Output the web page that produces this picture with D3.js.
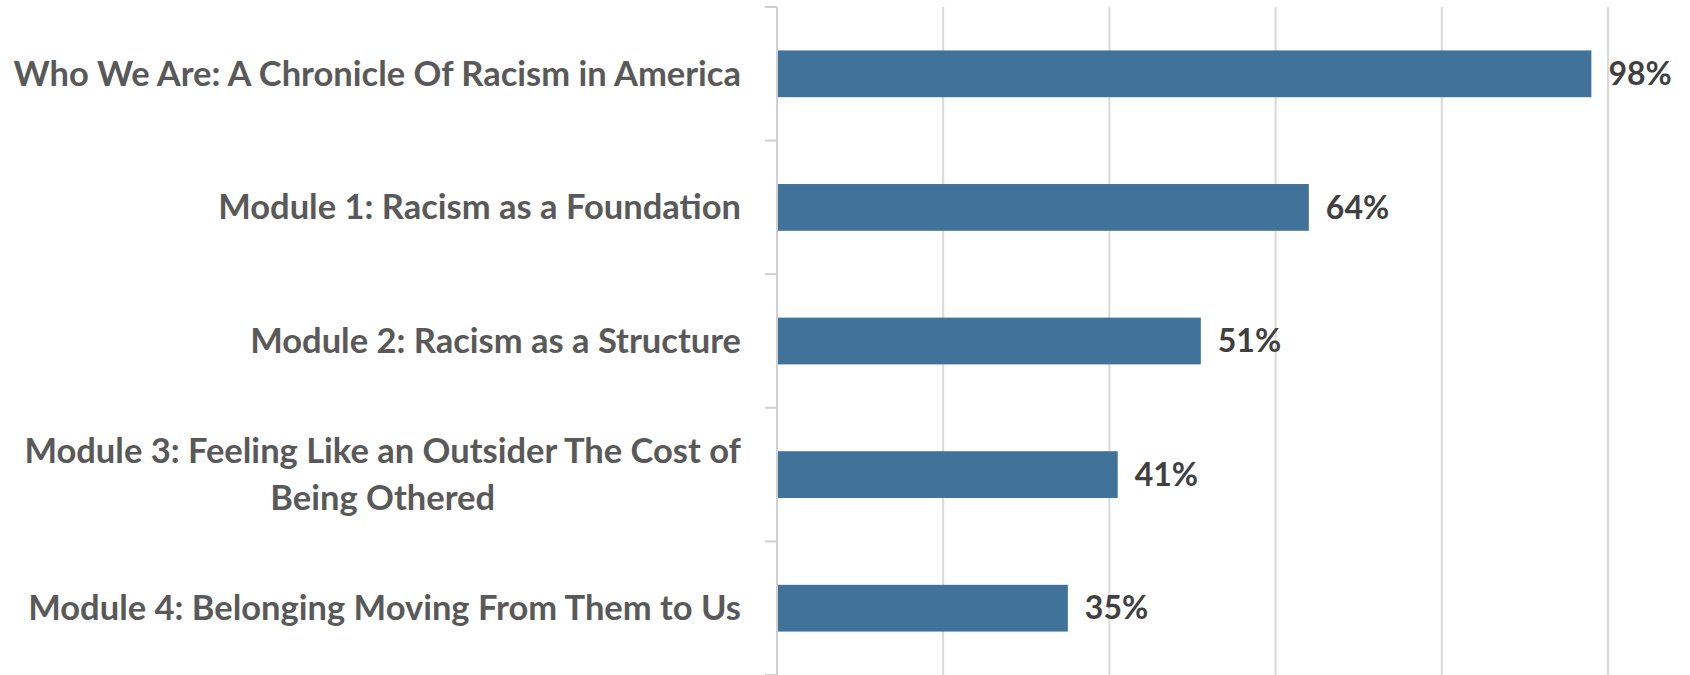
<!DOCTYPE html>
<html>
<head>
<meta charset="utf-8">
<script src="https://cdn.jsdelivr.net/npm/d3@7"></script>
<style>
  body { margin: 0; background: #fff; }
  svg text { font-family: Lato, "Open Sans", sans-serif; font-weight: bold; }
</style>
</head>
<body>
<svg id="chart"></svg>
<script>
const categories = [
  ["Who We Are: A Chronicle Of Racism in America"],
  ["Module 1: Racism as a Foundation"],
  ["Module 2: Racism as a Structure"],
  ["Module 3: Feeling Like an Outsider The Cost of", "Being Othered"],
  ["Module 4: Belonging Moving From Them to Us"]
];
const values = [98, 64, 51, 41, 35];
const xTicks = [0, 20, 40, 60, 80, 100];

const width = 1690, height = 675;
const margin = {top: 7, right: 82, bottom: 0, left: 777};

const svg = d3.select("#chart").attr("width", width).attr("height", height);

const x = d3.scaleLinear().domain([0, 100]).range([margin.left, width - margin.right]);
const y = d3.scaleBand()
  .domain(d3.range(categories.length))
  .range([margin.top, height - margin.bottom])
  .paddingInner(0.65)
  .paddingOuter(0.325);

// gridlines
svg.append("g")
  .selectAll("line")
  .data(xTicks.slice(1))
  .enter().append("line")
  .attr("x1", d => x(d)).attr("x2", d => x(d))
  .attr("y1", margin.top).attr("y2", height)
  .attr("stroke", "#d9d9d9").attr("stroke-width", 2);

// bars
svg.append("g")
  .selectAll("rect")
  .data(values)
  .enter().append("rect")
  .attr("x", x(0))
  .attr("y", (d, i) => y(i))
  .attr("width", d => x(d) - x(0))
  .attr("height", y.bandwidth())
  .attr("fill", "#41729a");

// category axis with boundary ticks
const step = y.step();
const bounds = d3.range(categories.length + 1).map(i => margin.top + i * step);
svg.append("line")
  .attr("x1", x(0)).attr("x2", x(0))
  .attr("y1", margin.top).attr("y2", height)
  .attr("stroke", "#d0d0d0").attr("stroke-width", 2);
svg.append("g")
  .selectAll("line")
  .data(bounds)
  .enter().append("line")
  .attr("x1", x(0) - 12).attr("x2", x(0))
  .attr("y1", d => d).attr("y2", d => d)
  .attr("stroke", "#d0d0d0").attr("stroke-width", 2);

// category labels
const labelRight = x(0) - 36;
const lineH = 47;
svg.append("g")
  .selectAll("text")
  .data(categories)
  .enter().append("text")
  .attr("font-size", 34.5)
  .attr("fill", "#595959")
  .each(function(lines, i) {
    const t = d3.select(this);
    const cy = y(i) + y.bandwidth() / 2;
    const y0 = cy - (lines.length - 1) * lineH / 2;
    t.selectAll("tspan")
      .data(lines)
      .enter().append("tspan")
      .attr("y", (d, j) => y0 + j * lineH)
      .attr("dy", "0.35em")
      .text(d => d);
    // center multi-line block, right aligned to the axis
    const widths = [];
    t.selectAll("tspan").each(function() { widths.push(this.getComputedTextLength()); });
    const maxW = d3.max(widths);
    t.selectAll("tspan")
      .attr("text-anchor", "middle")
      .attr("x", labelRight - maxW / 2);
  });

// value labels
svg.append("g")
  .selectAll("text")
  .data(values)
  .enter().append("text")
  .attr("x", d => x(d) + 17)
  .attr("y", (d, i) => y(i) + y.bandwidth() / 2)
  .attr("dy", "0.35em")
  .attr("font-size", 32)
  .attr("fill", "#404040")
  .text(d => d + "%");
</script>
</body>
</html>
